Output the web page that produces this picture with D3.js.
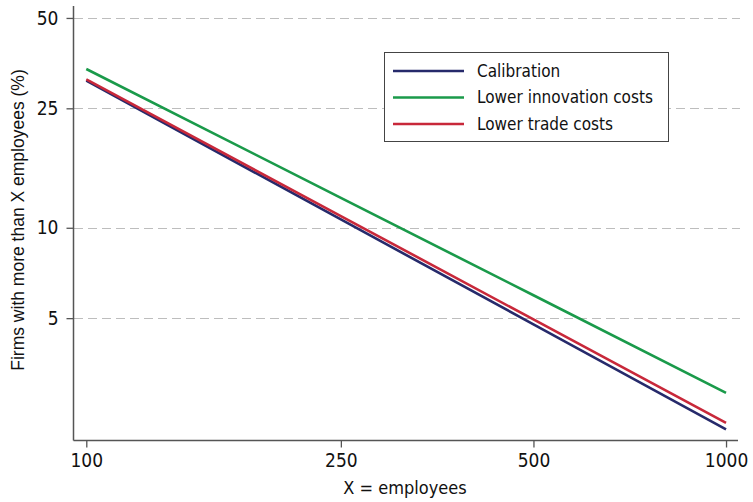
<!DOCTYPE html>
<html><head><meta charset="utf-8">
<script src="https://cdn.jsdelivr.net/npm/d3@7"></script>
<style>
html,body{margin:0;padding:0;background:#fff;}
.cond{font-family:"DejaVu Sans Condensed","DejaVu Sans",sans-serif;font-stretch:condensed;}
</style></head>
<body><svg id="c" width="753" height="502"></svg>
<script>
const employees = [100, 250, 500, 1000];
const seriesNames = ["Calibration", "Lower innovation costs", "Lower trade costs"];
const calibration = [30.9, 10.66, 4.77, 2.13];
const lowerInnovation = [33.8, 12.58, 5.96, 2.82];
const lowerTrade = [31.2, 10.94, 4.95, 2.24];
const xTicks = [100, 250, 500, 1000];
const yTicks = [5, 10, 25, 50];
const colors = ["#262a6b", "#1a9a4a", "#c8283a"];

const svg = d3.select("#c");
const x = d3.scaleLog().domain([95.5, 1044]).range([73.5, 738]);
const y = d3.scaleLog().domain([1.956, 54.8]).range([440.5, 6]);

// gridlines
svg.append("g").selectAll("line").data(yTicks).join("line")
  .attr("x1", 74).attr("x2", 740)
  .attr("y1", d => Math.round(y(d)) + 0.5).attr("y2", d => Math.round(y(d)) + 0.5)
  .attr("stroke", "#bdbdbd").attr("stroke-width", 1.2).attr("stroke-dasharray", "9,5");

// axes
const gx = svg.append("g").attr("transform", "translate(0,440.5)")
  .call(d3.axisBottom(x).tickValues(xTicks).tickFormat(d3.format("d")).tickSize(7).tickPadding(6).tickSizeOuter(0));
const gy = svg.append("g").attr("transform", "translate(73.5,0)")
  .call(d3.axisLeft(y).tickValues(yTicks).tickFormat(d3.format("d")).tickSize(7).tickPadding(8).tickSizeOuter(0));
[gx, gy].forEach(g => {
  g.select(".domain").attr("stroke", "#555").attr("stroke-width", 1.5);
  g.selectAll(".tick line").attr("stroke", "#555").attr("stroke-width", 1.3);
  g.selectAll(".tick text").attr("class", "cond").attr("fill", "#111").style("font-size", "19px");
});
gx.select(".domain").attr("d", "M73.5,0H738");
gy.select(".domain").attr("d", "M0,6V440.5");

// lines
const seriesData = [calibration, lowerInnovation, lowerTrade];
const line = d3.line().x(d => x(d[0])).y(d => y(d[1]));
[1, 0, 2].forEach(i => {
  svg.append("path")
    .datum(employees.map((e, j) => [e, seriesData[i][j]]))
    .attr("d", line).attr("fill", "none")
    .attr("stroke", colors[i]).attr("stroke-width", 2.6);
});

// legend
const lg = svg.append("g");
lg.append("rect").attr("x", 384.5).attr("y", 52.5).attr("width", 284).attr("height", 89)
  .attr("fill", "#fff").attr("stroke", "#444").attr("stroke-width", 1);
seriesNames.forEach((n, i) => {
  const yy = 71 + i * 26.5;
  lg.append("line").attr("x1", 393).attr("x2", 464).attr("y1", yy).attr("y2", yy)
    .attr("stroke", colors[i]).attr("stroke-width", 2.6);
  lg.append("text").attr("class", "cond").attr("x", 477).attr("y", yy).attr("dy", "0.35em")
    .style("font-size", "17px").attr("fill", "#111").text(n);
});

// axis titles
svg.append("text").attr("class", "cond").attr("x", 405).attr("y", 494)
  .attr("text-anchor", "middle").style("font-size", "18px").attr("fill", "#111").text("X = employees");
svg.append("text").attr("transform", "translate(24,220) rotate(-90)")
  .attr("text-anchor", "middle").style("font-family", "'Liberation Sans', Arial, sans-serif")
  .style("font-size", "17.5px").attr("fill", "#111").text("Firms with more than X employees (%)");
</script></body></html>
